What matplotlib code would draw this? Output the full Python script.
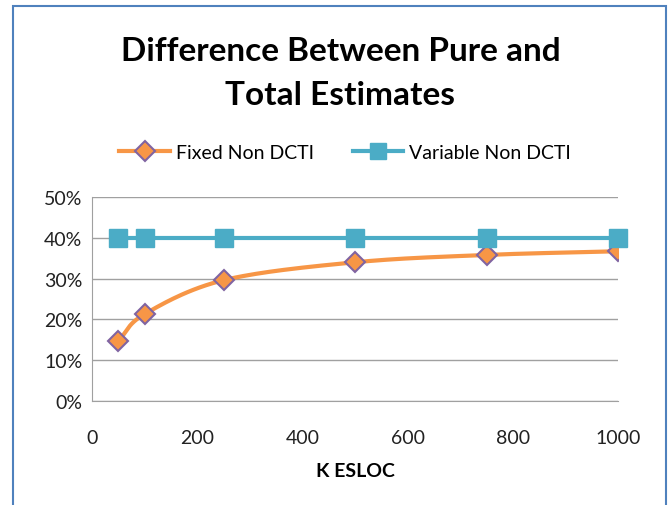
import numpy as np
import matplotlib
matplotlib.use("Agg")
import matplotlib.pyplot as plt
from matplotlib.patches import Rectangle
from matplotlib.lines import Line2D

plt.rcParams['font.family'] = ['Lato', 'DejaVu Sans']

# данные
k_esloc = [50, 100, 250, 500, 750, 1000]
fixed_non_dcti = [0.147, 0.213, 0.296, 0.340, 0.358, 0.367]
variable_non_dcti = [0.40, 0.40, 0.40, 0.40, 0.40, 0.40]
y_ticks = [0, 0.1, 0.2, 0.3, 0.4, 0.5]
y_labels = ['0%', '10%', '20%', '30%', '40%', '50%']
x_ticks = [0, 200, 400, 600, 800, 1000]

orange = '#F79646'
purple = '#8064A2'
blue = '#4BACC6'
grey = '#A0A0A0'


# сглаженная линия как в Excel (Catmull-Rom)
def smooth(xs, ys, n=30):
    xs = np.asarray(xs, float)
    ys = np.asarray(ys, float)
    px = np.concatenate([[2 * xs[0] - xs[1]], xs, [2 * xs[-1] - xs[-2]]])
    py = np.concatenate([[2 * ys[0] - ys[1]], ys, [2 * ys[-1] - ys[-2]]])
    out_x, out_y = [], []
    for i in range(1, len(px) - 2):
        t = np.linspace(0, 1, n)
        for arr, out in ((px, out_x), (py, out_y)):
            p0, p1, p2, p3 = arr[i - 1], arr[i], arr[i + 1], arr[i + 2]
            out.extend(0.5 * ((2 * p1) + (-p0 + p2) * t
                              + (2 * p0 - 5 * p1 + 4 * p2 - p3) * t ** 2
                              + (-p0 + 3 * p1 - 3 * p2 + p3) * t ** 3))
    return out_x, out_y


fig = plt.figure(figsize=(6.7, 5.06), dpi=100)
ax = fig.add_axes([92 / 670, 104 / 506, 526 / 670, 204 / 506])

sx, sy = smooth(k_esloc, fixed_non_dcti)
ax.plot(sx, sy, color=orange, lw=3, zorder=3)
ax.plot(k_esloc, fixed_non_dcti, ls='none', marker='D', ms=10, mfc=orange,
        mec=purple, mew=1.5, zorder=4)
ax.plot(k_esloc, variable_non_dcti, color=blue, lw=3, marker='s', ms=13,
        mfc=blue, mec=blue, zorder=5, clip_on=False)

ax.set_xlim(0, 1000)
ax.set_ylim(0, 0.5)
ax.set_yticks(y_ticks)
ax.set_yticklabels(y_labels)
ax.set_xticks(x_ticks)
ax.yaxis.grid(True, color=grey, lw=1)
ax.set_axisbelow(True)
for s in ['top', 'right']:
    ax.spines[s].set_visible(False)
for s in ['left', 'bottom']:
    ax.spines[s].set_color(grey)
ax.tick_params(length=0, labelsize=14, colors='#222222', pad=7)
ax.tick_params(axis='x', pad=20)
ax.set_xlabel('K ESLOC', fontsize=14, fontweight='bold', labelpad=12)

fig.text(0.508, 0.855, 'Difference Between Pure and\nTotal Estimates',
         ha='center', va='center', fontsize=24, fontweight='bold',
         linespacing=1.62)

handles = [
    Line2D([], [], color=orange, lw=3, marker='D', ms=10, mfc=orange,
           mec=purple, mew=1.5),
    Line2D([], [], color=blue, lw=3, marker='s', ms=12, mfc=blue, mec=blue),
]
fig.legend(handles, ['Fixed Non DCTI', 'Variable Non DCTI'], ncol=2,
           loc='center', bbox_to_anchor=(0.515, 0.697), frameon=False,
           fontsize=14, handlelength=2.6, columnspacing=2.0,
           handletextpad=0.3)

fig.patches.append(Rectangle((13 / 670, -0.02), 653 / 670, 499 / 506 + 0.02,
                             transform=fig.transFigure, fill=False,
                             edgecolor='#4F81BD', lw=1.5))

fig.savefig('out.png', dpi=100)
